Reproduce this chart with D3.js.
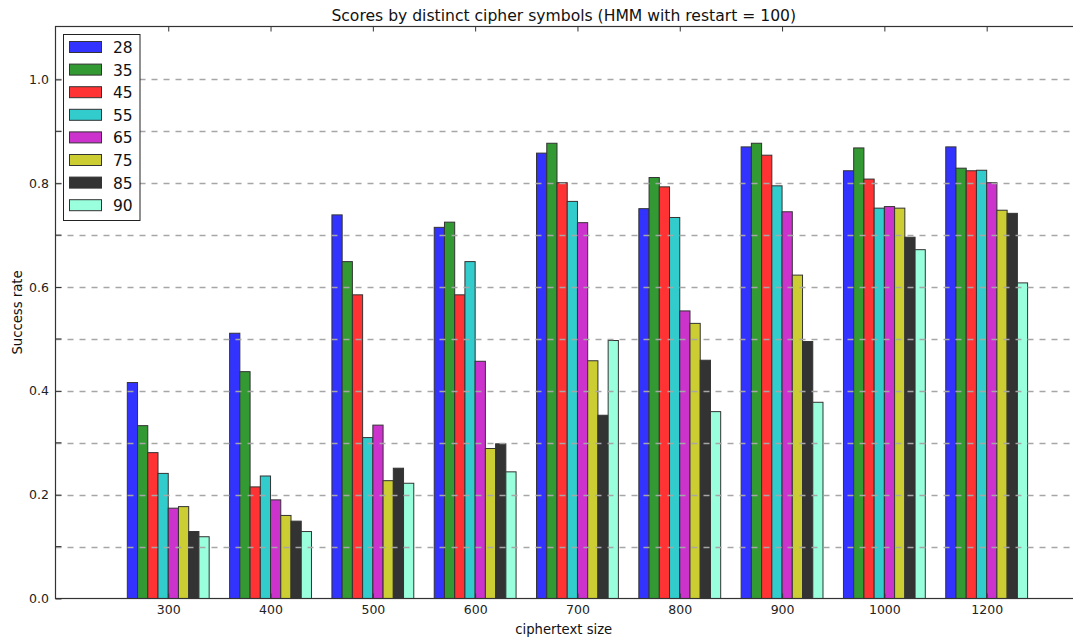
<!DOCTYPE html>
<html>
<head>
<meta charset="utf-8">
<script src="https://cdn.jsdelivr.net/npm/d3@7"></script>
<style>
  html, body { margin: 0; padding: 0; background: #fff; }
  svg { display: block; font-family: "DejaVu Sans", sans-serif; }
</style>
</head>
<body>
<svg id="chart" width="1073" height="641"></svg>
<script>
const categories = ["300", "400", "500", "600", "700", "800", "900", "1000", "1200"];
const seriesNames = ["28", "35", "45", "55", "65", "75", "85", "90"];
const seriesColors = ["#3333ff", "#339933", "#ff3333", "#33cccc", "#cc33cc", "#cccc33", "#333333", "#99ffdd"];
const s28 = [0.416, 0.511, 0.739, 0.715, 0.858, 0.751, 0.870, 0.824, 0.870];
const s35 = [0.333, 0.437, 0.649, 0.725, 0.877, 0.811, 0.877, 0.868, 0.829];
const s45 = [0.281, 0.215, 0.585, 0.585, 0.801, 0.793, 0.854, 0.808, 0.824];
const s55 = [0.241, 0.236, 0.310, 0.649, 0.765, 0.734, 0.795, 0.752, 0.825];
const s65 = [0.174, 0.190, 0.334, 0.457, 0.724, 0.554, 0.745, 0.755, 0.801];
const s75 = [0.177, 0.160, 0.227, 0.289, 0.458, 0.530, 0.623, 0.752, 0.748];
const s85 = [0.129, 0.149, 0.251, 0.298, 0.353, 0.459, 0.495, 0.696, 0.742];
const s90 = [0.119, 0.129, 0.222, 0.244, 0.497, 0.360, 0.378, 0.672, 0.608];
const seriesValues = [s28, s35, s45, s55, s65, s75, s85, s90];
const yTicks = [0.0, 0.2, 0.4, 0.6, 0.8, 1.0];
const yGrid = [0.1, 0.2, 0.3, 0.4, 0.5, 0.6, 0.7, 0.8, 0.9, 1.0];
const titleText = "Scores by distinct cipher symbols (HMM with restart = 100)";
const xLabel = "ciphertext size";
const yLabel = "Success rate";

const svg = d3.select("#chart");
const L = 55.5, R = 1072, T = 26.5, B = 598.5;
const barW = 0.1;

// x in "group units": group i spans [i, i + 0.8]
const x = d3.scaleLinear().domain([-0.702, 9.234]).range([L, R]);
const y = d3.scaleLinear().domain([0, 1.1]).range([B, T + 1]);

// bars
const gBars = svg.append("g");
seriesValues.forEach((vals, si) => {
  gBars.selectAll(null).data(vals).enter().append("rect")
    .attr("x", (d, i) => x(i + si * barW))
    .attr("width", x(barW) - x(0))
    .attr("y", d => y(d))
    .attr("height", d => y(0) - y(d))
    .attr("fill", seriesColors[si])
    .attr("stroke", "#333")
    .attr("stroke-width", 1);
});

// grid (on top)
svg.append("g").selectAll("line").data(yGrid).enter().append("line")
  .attr("x1", L).attr("x2", R)
  .attr("y1", d => Math.round(y(d)) + 0.5).attr("y2", d => Math.round(y(d)) + 0.5)
  .attr("stroke", "#a6a6a6").attr("stroke-width", 1.3)
  .attr("stroke-dasharray", "6,6");

// axes
const xTickPos = categories.map((c, i) => i + 0.4);
const xAxisB = d3.axisBottom(x).tickValues(xTickPos).tickFormat((d, i) => categories[i])
  .tickSizeInner(-5).tickSizeOuter(0).tickPadding(7);
const gx = svg.append("g").attr("transform", `translate(0,${B})`).call(xAxisB);
const xAxisT = d3.axisTop(x).tickValues(xTickPos).tickFormat("").tickSizeInner(-5).tickSizeOuter(0);
const gxt = svg.append("g").attr("transform", `translate(0,${T})`).call(xAxisT);

const yAxisL = d3.axisLeft(y).tickValues(yTicks).tickFormat(d3.format(".1f"))
  .tickSizeInner(-6).tickSizeOuter(0).tickPadding(6.5);
const gy = svg.append("g").attr("transform", `translate(${L},0)`).call(yAxisL);
// minor ticks
svg.append("g").selectAll("line").data(yGrid.filter(v => Math.round(v * 10) % 2 === 1)).enter().append("line")
  .attr("x1", L).attr("x2", L + 6)
  .attr("y1", d => y(d)).attr("y2", d => y(d))
  .attr("stroke", "#333").attr("stroke-width", 1);

[gx, gxt, gy].forEach(g => {
  g.select(".domain").remove();
  g.selectAll("line").attr("stroke", "#333");
  g.selectAll("text").attr("font-size", 12.5).attr("fill", "#222").attr("font-family", "DejaVu Sans");
});

// frame
svg.append("rect").attr("x", L).attr("y", T).attr("width", R - L + 2).attr("height", B - T)
  .attr("fill", "none").attr("stroke", "#333").attr("stroke-width", 1.2);

// title & labels
svg.append("text").attr("x", (L + R) / 2).attr("y", 21).attr("text-anchor", "middle")
  .attr("font-size", 15.6).attr("fill", "#111").text(titleText);
svg.append("text").attr("x", (L + R) / 2).attr("y", 634).attr("text-anchor", "middle")
  .attr("font-size", 13.2).attr("fill", "#111").text(xLabel);
svg.append("text").attr("transform", `translate(21.5,${(T + B) / 2}) rotate(-90)`).attr("text-anchor", "middle")
  .attr("font-size", 13.2).attr("fill", "#111").text(yLabel);

// legend
const lg = svg.append("g");
lg.append("rect").attr("x", 63.5).attr("y", 34.5).attr("width", 76.5).attr("height", 186)
  .attr("fill", "#fff").attr("stroke", "#222").attr("stroke-width", 1);
seriesNames.forEach((n, i) => {
  const cy = 47 + i * 22.6;
  lg.append("rect").attr("x", 69.5).attr("y", cy - 5.5).attr("width", 32).attr("height", 11)
    .attr("fill", seriesColors[i]).attr("stroke", "#333").attr("stroke-width", 1);
  lg.append("text").attr("x", 113).attr("y", cy + 6).attr("font-size", 15.5).attr("fill", "#111").text(n);
});
</script>
</body>
</html>
